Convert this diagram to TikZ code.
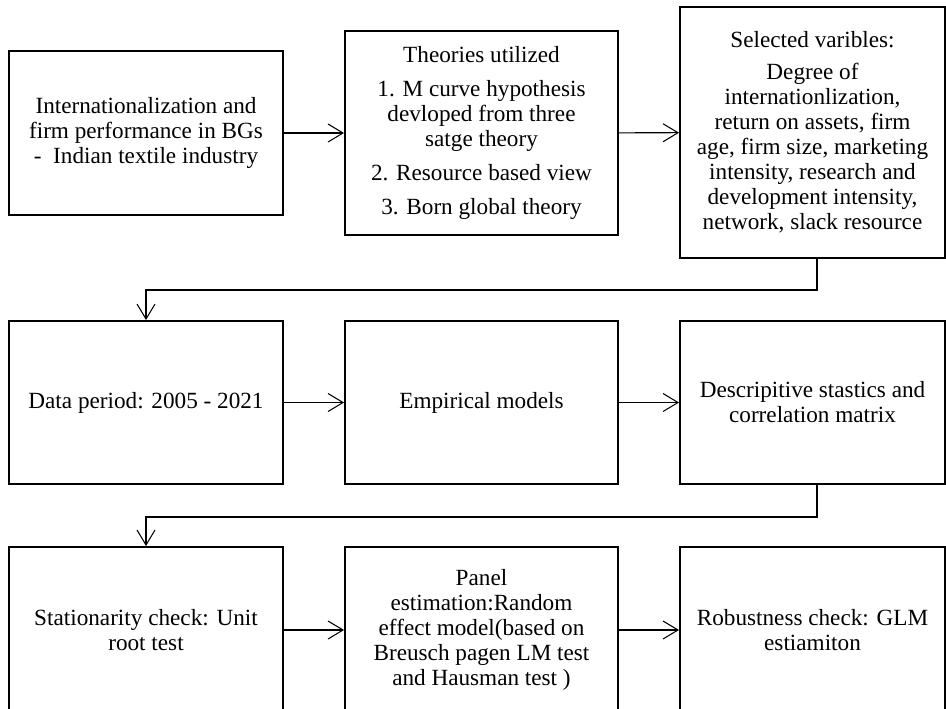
\documentclass[tikz,border=0pt]{standalone}
\usepackage{fontspec}
\setmainfont{Liberation Serif}
\usetikzlibrary{arrows.meta}

\begin{document}
\begin{tikzpicture}[every node/.style={font=\fontsize{13.2pt}{14.2pt}\selectfont, align=center},
    box/.style={draw, line width=1.1pt, inner sep=0pt},
    flow/.style={-{Straight Barb[length=0.3cm, width=0.36cm]}, line width=0.6pt}]
    \clip (0,0) rectangle (18.92,-14.16);
    % ROW 1
    \node[box, minimum width=5.48cm, minimum height=3.28cm] (idea) at (2.92,-2.66)
        {Internationalization and\\firm performance in BGs\\-\ \ Indian textile industry};
    \node[box, minimum width=5.46cm, minimum height=4.08cm] (theory) at (9.63,-2.66)
        {Theories utilized\\[5pt]1. M curve hypothesis\\devloped from three\\satge theory\\[5pt]2. Resource based view\\[5pt]3. Born global theory};
    \node[box, minimum width=5.30cm, minimum height=5.02cm] (vars) at (16.25,-2.65)
        {Selected varibles:\\[4pt]Degree of\\internationlization,\\return on assets, firm\\age, firm size, marketing\\intensity, research and\\development intensity,\\network, slack resource};
    \draw[flow] (idea) -- (theory);
    \draw[flow] (theory) -- (vars);
    % ROW 2
    \node[box, minimum width=5.48cm, minimum height=3.26cm] (period) at (2.92,-8.05)
        {Data period: 2005 - 2021};
    \node[box, minimum width=5.46cm, minimum height=3.26cm] (models) at (9.63,-8.05)
        {Empirical models};
    \node[box, minimum width=5.30cm, minimum height=3.26cm] (desc) at (16.25,-8.05)
        {Descripitive stastics and\\correlation matrix};
    \draw[flow] ([xshift=0.09cm]vars.south) -- ++(0,-0.62) -| (period.north);
    \draw[flow] (period) -- (models);
    \draw[flow] (models) -- (desc);
    % ROW 3
    \node[box, minimum width=5.48cm, minimum height=3.32cm] (unit) at (2.92,-12.6)
        {Stationarity check: Unit\\root test};
    \node[box, minimum width=5.46cm, minimum height=3.32cm] (panel) at (9.63,-12.6)
        {Panel\\estimation:Random\\effect model(based on\\Breusch pagen LM test\\and Hausman test )};
    \node[box, minimum width=5.30cm, minimum height=3.32cm] (glm) at (16.25,-12.6)
        {Robustness check: GLM\\estiamiton};
    \draw[flow] ([xshift=0.09cm]desc.south) -- ++(0,-0.64) -| (unit.north);
    \draw[flow] (unit) -- (panel);
    \draw[flow] (panel) -- (glm);
\end{tikzpicture}
\end{document}
